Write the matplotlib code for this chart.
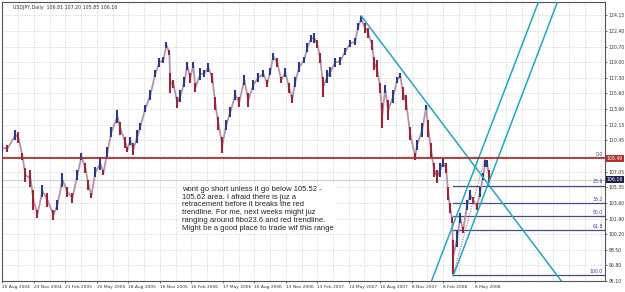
import matplotlib
matplotlib.use('Agg')
import matplotlib.pyplot as plt
import numpy as np

# USDJPY daily (bar index from 26 Aug 2004)
bar_x = [0, 10, 26, 32, 40, 46, 56, 62, 70, 80, 90, 102, 110, 120, 130, 140, 150, 158, 166, 172,
         178, 186, 196, 202, 210, 218, 230, 236, 246, 250, 256, 262, 270, 276, 286, 296, 306, 314, 322, 328,
         334, 336, 342, 350, 356, 364, 370, 376, 382, 386, 396, 404, 412, 420, 426, 432, 440, 448, 456, 466,
         474, 484, 492, 502, 512, 522, 530, 536, 542, 550, 558, 566, 574, 580, 586, 594, 604, 610, 618, 624,
         630, 636, 642, 650, 656, 666, 676, 686, 696, 706, 712, 718, 726, 732, 740, 744, 750, 756, 760, 766,
         772, 782, 790, 796, 802, 808, 816, 826, 830, 840, 848, 852, 858, 864, 870, 876, 882, 888, 892, 896,
         900, 902, 910, 916, 922, 930, 936, 942, 950, 956, 962, 966, 970, 974]
highs = [110.17, 109.95, 111.59, 111.37, 109.08, 107.44, 107.22, 105.04, 102.85, 105.58,
         104.71, 102.85, 103.95, 106.89, 105.37, 104.71, 107.22, 109.08, 107.99, 106.13,
         104.71, 107.55, 108.64, 107.22, 109.73, 111.92, 113.77, 112.46, 110.83, 109.73,
         110.83, 110.17, 111.59, 112.36, 114.32, 115.96, 118.14, 119.45, 119.56, 121.20,
         120.33, 117.82, 117.05, 115.19, 115.96, 117.38, 119.02, 117.82, 119.02, 116.72,
         118.36, 118.14, 118.91, 117.82, 115.19, 113.01, 110.83, 112.68, 114.10, 115.96,
         115.19, 117.60, 115.63, 117.05, 117.82, 118.14, 117.05, 118.36, 120.00, 119.45,
         117.38, 118.36, 116.72, 115.41, 117.38, 119.02, 119.56, 121.09, 121.97, 122.18,
         121.42, 120.00, 117.38, 118.14, 118.47, 119.45, 119.56, 120.55, 121.42, 121.64,
         123.28, 124.04, 123.28, 122.73, 121.42, 119.56, 119.24, 116.72, 114.54, 116.51,
         114.87, 115.96, 117.38, 117.82, 116.29, 115.41, 111.92, 109.08, 110.50, 112.36,
         114.32, 112.68, 110.17, 107.99, 107.22, 107.99, 108.53, 107.99, 105.37, 103.62,
         102.09, 99.58, 100.67, 102.53, 100.96, 103.95, 105.04, 104.27, 103.62, 105.37,
         106.89, 108.31, 108.31, 107.20]
lows = [109.08, 109.19, 110.50, 110.17, 108.31, 105.91, 105.37, 102.85, 101.98, 104.27,
        103.18, 101.76, 102.85, 105.37, 104.27, 103.62, 106.13, 108.31, 106.89, 105.04,
        104.16, 106.46, 107.22, 106.68, 108.64, 110.83, 112.36, 111.04, 109.62, 109.19,
        109.95, 108.86, 110.17, 111.59, 113.56, 114.87, 117.38, 118.47, 118.91, 120.55,
        119.78, 115.63, 116.18, 113.99, 114.65, 116.29, 118.14, 116.72, 118.36, 115.74,
        117.05, 117.38, 117.92, 116.72, 113.77, 111.59, 109.08, 111.59, 113.01, 114.87,
        114.10, 116.51, 114.10, 115.96, 116.83, 117.38, 116.29, 117.60, 119.24, 118.47,
        116.72, 117.38, 115.63, 114.54, 116.29, 117.92, 118.91, 120.11, 121.20, 121.09,
        120.55, 118.91, 115.19, 116.72, 117.38, 118.47, 118.69, 119.78, 120.66, 120.87,
        122.51, 123.39, 122.18, 121.64, 120.33, 118.14, 117.38, 115.63, 111.81, 115.63,
        112.68, 114.54, 116.72, 117.27, 114.87, 113.77, 110.50, 108.31, 109.41, 110.83,
        113.77, 110.83, 108.64, 106.46, 105.80, 106.46, 107.55, 106.89, 103.95, 102.53,
        101.43, 95.86, 98.81, 101.43, 100.34, 102.85, 103.95, 103.62, 102.85, 104.27,
        106.13, 107.55, 107.55, 105.85]

y_ticks = [124.15, 122.40, 120.70, 119.00, 117.30, 115.60, 113.90, 112.15, 110.45,
           108.75, 107.05, 105.35, 103.60, 101.90, 100.20, 98.50, 96.80, 95.10]
date_labels = ['26 Aug 2004', '23 Nov 2004', '21 Feb 2005', '20 May 2005', '18 Aug 2005',
               '16 Nov 2005', '16 Feb 2006', '17 May 2006', '16 Aug 2006', '13 Nov 2006',
               '13 Feb 2007', '14 May 2007', '10 Aug 2007', '8 Nov 2007', '8 Feb 2008', '8 May 2008']

red_level = 108.49
bid = 106.16
fib_hi, fib_lo = 108.55, 95.75
fib_hi_x, fib_lo_x = 966, 902
fib_levels = [0.0, 23.6, 38.2, 50.0, 61.8, 100.0]

# trendlines as (x1, p1, x2, p2)
trend_lines = [(718, 124.05, 1120, 95.0),
               (858, 95.0, 1072, 125.46),
               (902, 95.65, 1110, 125.46)]

note = ("wont go short unless it go below 105.52 -\n"
        "105.62 area. I afraid there is juz a\n"
        "retracement before it breaks the red\n"
        "trendline. For me, next weeks might juz\n"
        "ranging around fibo23.6 and red trendline.\n"
        "Might be a good place to trade wif this range")

W, H = 625, 292
fig = plt.figure(figsize=(W / 100, H / 100), dpi=100)
fig.patch.set_facecolor('white')
ax = fig.add_axes([2 / W, (H - 281) / H, 603 / W, 279 / H])
ax.set_xlim(-1, 1206)
ax.set_ylim(95.10, 125.57)

# grid
date_pos = [i * 63 for i in range(len(date_labels))]
ax.set_xticks(date_pos)
ax.set_xticks([i * 31.5 for i in range(39)], minor=True)
ax.set_yticks(y_ticks)
ax.grid(True, which='both', color='#c4c4c4', linestyle=(0, (1.5, 2)), linewidth=0.5)
ax.set_axisbelow(True)

ax.yaxis.tick_right()
ax.set_yticklabels(['' if v == 108.75 else '%.2f' % v for v in y_ticks],
                   fontsize=3.3, color='#333333')
ax.set_xticklabels(date_labels, fontsize=3.2, color='#333333', ha='left')
ax.tick_params(axis='y', length=1.5, pad=1.0, width=0.5, color='#333333')
ax.tick_params(axis='x', which='major', length=1.5, pad=1.2, width=0.5, color='#333333')
ax.tick_params(axis='x', which='minor', length=0)
for s in ax.spines.values():
    s.set_color('#555555')
    s.set_linewidth(0.8)

# horizontal lines
ax.axhline(bid, color='#d0d0d0', lw=0.8, zorder=1)
ax.axhline(red_level, color='#a8302f', lw=1.3, zorder=7)

# price bars
xs = np.array(bar_x)
hi = np.array(highs)
lo = np.array(lows)
mid = (hi + lo) / 2
ax.plot(xs, mid, color='#b592ad', lw=1.3, zorder=4)
cols = ['#2a3a86' if i == 0 or mid[i] >= mid[i - 1] else '#9c2438' for i in range(len(xs))]
ax.vlines(xs, lo, hi, colors=cols, lw=1.5, zorder=5)

# fibo
rng = fib_hi - fib_lo
for lv in fib_levels:
    p = fib_hi - rng * lv / 100
    if lv > 0:
        ax.plot([fib_lo_x, 1206], [p, p], color='#4a4a86', lw=0.9, zorder=3)
    ax.text(1202, p + 0.12, '%.1f' % lv, fontsize=3.3, color='#3c3c90',
            ha='right', va='bottom', zorder=6)
ax.plot([fib_lo_x, fib_hi_x], [fib_lo, fib_hi], color='#a05a5a', lw=0.7,
        linestyle=(0, (1, 1.5)), zorder=6)

# trendlines (extended as rays)
for x1, p1, x2, p2 in trend_lines:
    slope = (p2 - p1) / (x2 - x1)
    xe = x2 + 400
    ax.plot([x1, xe], [p1, p1 + slope * (xe - x1)], color='#1ea8c0', lw=1.1, zorder=6)

# price labels on axis
tr = ax.get_yaxis_transform()
ax.text(1.003, red_level, '%.2f' % red_level, transform=tr, fontsize=3.3, color='white',
        va='center', ha='left', clip_on=False, zorder=10,
        bbox=dict(boxstyle='square,pad=0.25', fc='#b0302f', ec='none'))
ax.text(1.003, bid, '%.2f' % bid, transform=tr, fontsize=3.3, color='white',
        va='center', ha='left', clip_on=False, zorder=10,
        bbox=dict(boxstyle='square,pad=0.25', fc='#1c2250', ec='none'))

# header
fig.text(13 / W, 1 - 7 / H, 'USDJPY,Daily  106.81 107.20 105.85 106.16', fontsize=3.4,
         color='#333333', va='center')

# note
fig.text(182 / W, 1 - 186 / H, note, fontsize=5.5, family='Liberation Sans', color='#222222',
         va='top', ha='left', linespacing=1.15,
         bbox=dict(boxstyle='square,pad=0.3', fc='white', ec='none'))

fig.savefig('out.png', dpi=100)
